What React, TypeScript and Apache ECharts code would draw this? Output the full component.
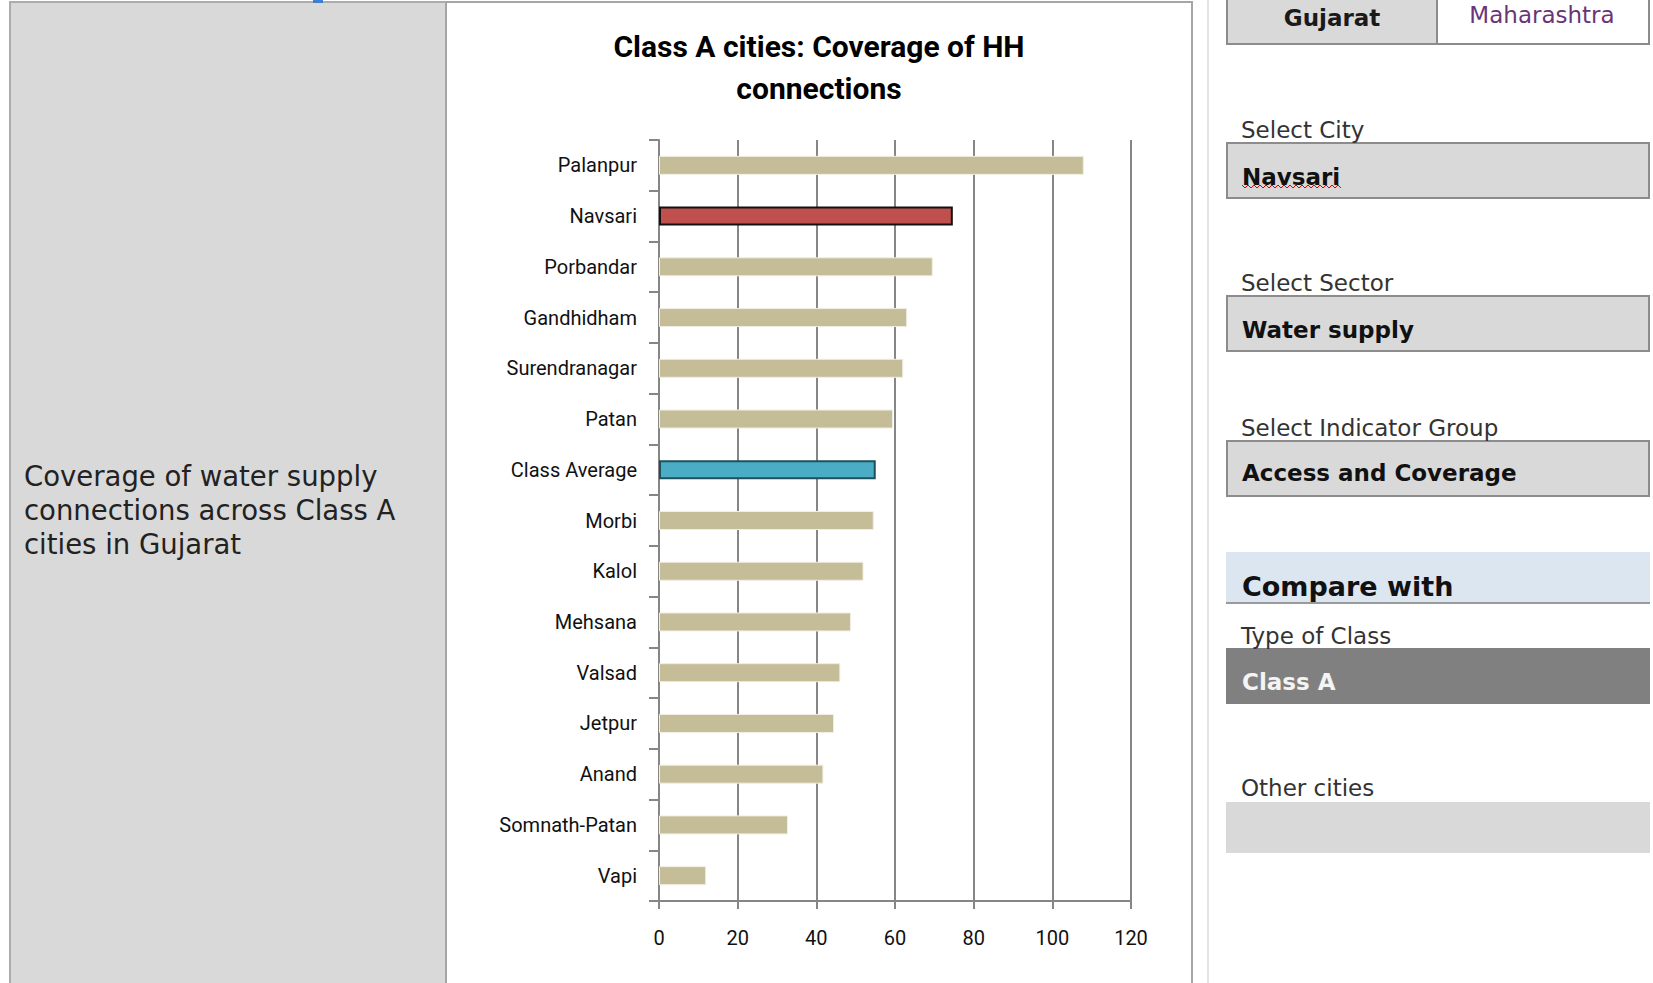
import React, { useEffect, useRef } from "react";
import * as echarts from "echarts";

// ---- data ----
const cities = [
  "Palanpur",
  "Navsari",
  "Porbandar",
  "Gandhidham",
  "Surendranagar",
  "Patan",
  "Class Average",
  "Morbi",
  "Kalol",
  "Mehsana",
  "Valsad",
  "Jetpur",
  "Anand",
  "Somnath-Patan",
  "Vapi",
];
const coverage = [108, 74.7, 69.6, 63.1, 62.1, 59.5, 55.1, 54.6, 52.0, 48.8, 46.1, 44.5, 41.8, 32.8, 12.0];
const axisMin = 0;
const axisMax = 120;
const axisStep = 20;
const selectedCity = "Navsari";
const averageName = "Class Average";
const chartTitle = "Class A cities: Coverage of HH\nconnections";
const sideNote = ["Coverage of water supply", "connections across Class A", "cities in Gujarat"];
const stateTabs = ["Gujarat", "Maharashtra"];
const selectors = [
  { label: "Select City", value: "Navsari" },
  { label: "Select Sector", value: "Water supply" },
  { label: "Select Indicator Group", value: "Access and Coverage" },
];
const compareHeading = "Compare with";
const classLabel = "Type of Class";
const classValue = "Class A";
const otherLabel = "Other cities";

const CHART_FONT = "Roboto, 'Liberation Sans', sans-serif";
const UI_FONT = "'DejaVu Sans', Verdana, sans-serif";

function txt(x: number, y: number, text: string, size: number, opts: any = {}) {
  return {
    type: "text",
    x,
    y,
    z: 10,
    style: {
      text,
      fill: opts.fill || "#222",
      fontSize: size,
      fontFamily: opts.family || UI_FONT,
      fontWeight: opts.bold ? "bold" : "normal",
      textAlign: opts.align || "left",
      textVerticalAlign: "middle",
      align: opts.align || "left",
      verticalAlign: "middle",
    },
  };
}

function box(x: number, y: number, w: number, h: number, fill: string, stroke?: string, lw = 2) {
  return {
    type: "rect",
    z: 1,
    shape: { x, y, width: w, height: h },
    style: { fill, stroke: stroke || "none", lineWidth: stroke ? lw : 0 },
  };
}

export default function App() {
  const ref = useRef<HTMLDivElement>(null);

  useEffect(() => {
    if (!ref.current) return;
    const chart = echarts.init(ref.current, undefined, { renderer: "svg" });

    const barData = cities.map((c, i) => {
      let itemStyle: any = { color: "#c4bd97", borderColor: "#f1eee4", borderWidth: 1 };
      if (c === selectedCity) itemStyle = { color: "#c0504d", borderColor: "#111111", borderWidth: 2 };
      else if (c === averageName) itemStyle = { color: "#4bacc6", borderColor: "#1d4f5c", borderWidth: 2 };
      return { value: coverage[i], itemStyle };
    });

    // wavy spell-check underline under selected city
    const wave: number[][] = [];
    for (let k = 0; k <= 33; k++) wave.push([1242 + k * 3, k % 2 === 0 ? 185 : 188]);

    const graphics: any[] = [
      // left panel
      box(10, 2, 436, 995, "#d9d9d9", "#acacac", 2),
      box(313, -1, 10, 4, "#3f7fd0"),
      // chart panel border
      box(446, 2, 746, 995, "none", "#a6a6a6", 2),
      // divider
      { type: "line", z: 1, shape: { x1: 1208, y1: 0, x2: 1208, y2: 983 }, style: { stroke: "#e3e3e3", lineWidth: 2 } },
      // tabs
      box(1227, -5, 210, 49, "#d9d9d9", "#8c8c8c", 2),
      box(1437, -5, 212, 49, "#ffffff", "#8c8c8c", 2),
      txt(1332, 18, stateTabs[0], 23, { bold: true, align: "center", fill: "#1a1a1a" }),
      txt(1542, 15, stateTabs[1], 23, { align: "center", fill: "#6a3578" }),
      // selectors
      box(1227, 143, 422, 55, "#d9d9d9", "#8c8c8c", 2),
      box(1227, 296, 422, 55, "#d9d9d9", "#8c8c8c", 2),
      box(1227, 441, 422, 55, "#d9d9d9", "#8c8c8c", 2),
      txt(1241, 130, selectors[0].label, 23, { fill: "#333" }),
      txt(1242, 177, selectors[0].value, 23, { bold: true, fill: "#111" }),
      { type: "polyline", z: 11, shape: { points: wave }, style: { stroke: "#e00000", lineWidth: 1, fill: "none" } },
      txt(1241, 283, selectors[1].label, 23, { fill: "#333" }),
      txt(1242, 330, selectors[1].value, 23, { bold: true, fill: "#111" }),
      txt(1241, 428, selectors[2].label, 23, { fill: "#333" }),
      txt(1242, 473, selectors[2].value, 23, { bold: true, fill: "#111" }),
      // compare
      box(1226, 552, 424, 51, "#dce6f1"),
      { type: "line", z: 2, shape: { x1: 1226, y1: 603, x2: 1650, y2: 603 }, style: { stroke: "#9a9a9a", lineWidth: 2 } },
      txt(1242, 586, compareHeading, 27, { bold: true, fill: "#111" }),
      txt(1241, 636, classLabel, 23, { fill: "#333" }),
      box(1226, 648, 424, 56, "#808080"),
      txt(1242, 682, classValue, 23, { bold: true, fill: "#f4f4f4" }),
      txt(1241, 788, otherLabel, 23, { fill: "#333" }),
      box(1226, 802, 424, 51, "#d9d9d9"),
      // side note
      ...sideNote.map((line, i) => txt(24, 476 + i * 34, line, 27.5, { fill: "#222" })),
    ];

    chart.setOption({
      animation: false,
      backgroundColor: "#ffffff",
      title: {
        text: chartTitle,
        left: 819,
        top: 25,
        padding: 0,
        textAlign: "center",
        textStyle: {
          fontFamily: CHART_FONT,
          fontSize: 30,
          fontWeight: "bold",
          lineHeight: 42,
          color: "#000",
        },
      },
      grid: { left: 659, right: 1653 - 1131, top: 140, bottom: 983 - 901, containLabel: false },
      xAxis: {
        type: "value",
        min: axisMin,
        max: axisMax,
        interval: axisStep,
        axisLine: { show: true, lineStyle: { color: "#868686", width: 2 } },
        axisTick: { show: true, length: 8, lineStyle: { color: "#868686", width: 2 } },
        splitLine: { show: true, lineStyle: { color: "#868686", width: 2 } },
        axisLabel: { fontFamily: CHART_FONT, fontSize: 20, color: "#111", margin: 27 },
      },
      yAxis: {
        type: "category",
        inverse: true,
        data: cities,
        axisLine: { show: true, lineStyle: { color: "#868686", width: 2 } },
        axisTick: { show: true, length: 10, lineStyle: { color: "#868686", width: 2 } },
        splitLine: { show: false },
        axisLabel: { fontFamily: CHART_FONT, fontSize: 20, color: "#111", margin: 22 },
      },
      series: [
        {
          type: "bar",
          data: barData,
          barWidth: 19,
          z: 3,
        },
      ],
      graphic: { elements: graphics },
    });

    return () => chart.dispose();
  }, []);

  return (
    <div
      ref={ref}
      style={{ position: "fixed", left: 0, top: 0, width: 1653, height: 983, background: "#fff" }}
    />
  );
}
